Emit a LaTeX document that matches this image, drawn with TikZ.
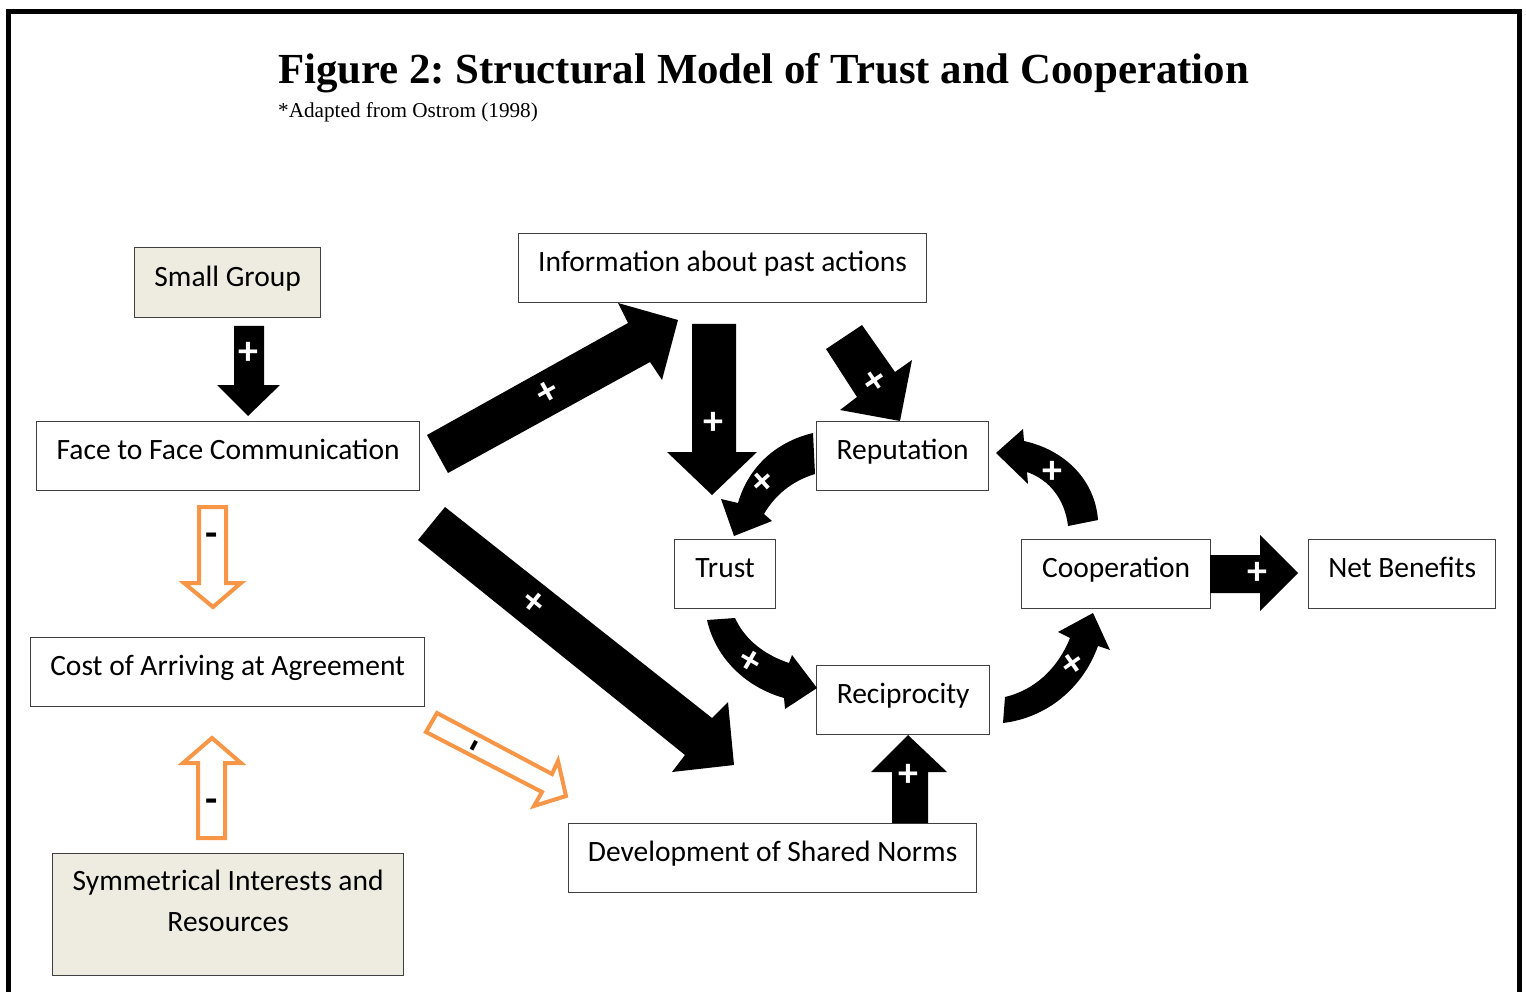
\documentclass[tikz,border=0pt]{standalone}
\usepackage{fontspec}
\setmainfont{Carlito}
\newfontfamily\timesf{Liberation Serif}
\definecolor{orangeC}{HTML}{F79646}
\definecolor{beigeC}{HTML}{EEECE1}
\frenchspacing
\begin{document}
\begin{tikzpicture}[x=1pt,y=-1pt,
  box/.style={draw=black!75, line width=1.3pt, inner sep=0pt, anchor=north west,
    text height=20pt, text depth=13pt, font=\fontsize{29.5}{35}\selectfont},
  blk/.style={fill=black, draw=none},
  ora/.style={draw=orangeC, line width=4pt, fill=white, line join=miter},
  pl/.style={text=white, inner sep=0pt, font=\fontsize{40}{40}\selectfont\bfseries},
  mn/.style={text=black, inner sep=0pt, font=\fontsize{40}{40}\selectfont\bfseries}]
\useasboundingbox (0,0) rectangle (1526,992);
% frame
\draw[line width=5pt] (8,1010) -- (8,11.5) -- (1519.5,11.5) -- (1519.5,1010);
% titles
\node[anchor=base west, inner sep=0pt, font=\timesf\bfseries\fontsize{42.85}{50}\selectfont] (title) at (278,84) {Figure 2: Structural Model of Trust and Cooperation};
\node[anchor=base west, inner sep=0pt, font=\timesf\fontsize{21.2}{25}\selectfont] (sub) at (278,118) {*Adapted from Ostrom (1998)};
% boxes
\node[box, fill=beigeC, minimum width=186, minimum height=70] (sg) at (134,247) {Small Group};
\node[box, minimum width=408, minimum height=69] (info) at (518,233) {Information about past actions};
\node[box, minimum width=383, minimum height=69] (face) at (36,421) {Face to Face Communication};
\node[box, minimum width=172, minimum height=69] (rep) at (816,421) {Reputation};
\node[box, minimum width=101, minimum height=69] (trust) at (674,539) {Trust};
\node[box, minimum width=189, minimum height=69] (coop) at (1021,539) {Cooperation};
\node[box, minimum width=187, minimum height=69] (net) at (1308,539) {Net Benefits};
\node[box, minimum width=394, minimum height=69] (cost) at (30,637) {Cost of Arriving at Agreement};
\node[box, minimum width=173, minimum height=69] (recip) at (816,665) {Reciprocity};
\node[box, minimum width=408, minimum height=69] (norms) at (568,823) {Development of Shared Norms};
\node[box, fill=beigeC, minimum width=351, minimum height=122, text height=20pt, text depth=68pt,
  font=\fontsize{29.5}{41}\selectfont] (sym) at (52,853)
  {\begin{tabular}[t]{@{}c@{}}Symmetrical Interests and\\Resources\end{tabular}};
% black arrows
\fill[blk] (234,326) -- (264,326) -- (264,385) -- (280,385) -- (248,416) -- (217,385) -- (234,385) -- cycle;
\node[pl] (p1) at (248,353) {+};
\fill[blk] (427,435) -- (628,323) -- (618,303) -- (678,320) -- (662,380) -- (650,362) -- (448,473) -- cycle;
\node[pl, rotate=29] (p2) at (548,393) {+};
\fill[blk] (692,324) -- (736,324) -- (736,452) -- (757,452) -- (712,495) -- (667,452) -- (692,452) -- cycle;
\node[pl] (p3) at (713,423) {+};
\fill[blk] (826,349) -- (862,325) -- (895,372) -- (912,360) -- (900,421) -- (840,410) -- (857,397) -- cycle;
\node[pl, rotate=-56] (p4) at (873,382) {+};
\fill[blk] (813,433) .. controls (775,442) and (748,468) .. (738,503) -- (721,499) -- (734,536) -- (772,521) -- (764,514) .. controls (775,495) and (792,481) .. (815,474) -- cycle;
\node[pl, rotate=42] (p5) at (763,483) {+};
\fill[blk] (707,620) .. controls (716,660) and (748,688) .. (784,698) -- (785,709) -- (817,688) -- (792,655) -- (789,663) .. controls (765,655) and (745,640) .. (735,618) -- cycle;
\node[pl, rotate=-30] (p6) at (750,662) {+};
\fill[blk] (1005,697) .. controls (1035,690) and (1058,668) .. (1070,638) -- (1058,632) -- (1093,613) -- (1110,650) -- (1098,646) .. controls (1082,690) and (1045,718) .. (1003,723) -- cycle;
\node[pl, rotate=35] (p7) at (1073,665) {+};
\fill[blk] (892,823) -- (892,772) -- (871,772) -- (908,735) -- (947,772) -- (928,772) -- (928,823) -- cycle;
\node[pl] (p8) at (908,775) {+};
\fill[blk] (1098,520) .. controls (1095,480) and (1065,450) .. (1024,441) -- (1023,429) -- (996,453) -- (1028,484) -- (1027,472) .. controls (1050,480) and (1065,500) .. (1068,526) -- cycle;
\node[pl] (p9) at (1052,472) {+};
\fill[blk] (1210,555) -- (1260,555) -- (1260,535) -- (1298,573) -- (1260,611) -- (1260,593) -- (1210,593) -- cycle;
\node[pl] (p10) at (1257,573) {+};
\fill[blk] (445,507) -- (712,718) -- (728,702) -- (734,765) -- (672,772) -- (685,755) -- (418,540) -- cycle;
\node[pl, rotate=-38.6] (p11) at (533,603) {+};
% orange arrows
\draw[ora] (199,507) -- (226,507) -- (226,583) -- (241,583) -- (213,607) -- (184,583) -- (199,583) -- cycle;
\node[mn] (m1) at (212,540) {-};
\draw[ora] (198,838) -- (198,763) -- (183,763) -- (212,738) -- (241,763) -- (225,763) -- (225,838) -- cycle;
\node[mn] (m2) at (212,806) {-};
\draw[ora] (437,713) -- (552,774) -- (558,761) -- (566,796) -- (534,806) -- (542,792) -- (426,732) -- cycle;
\node[mn, rotate=62] (m3) at (478,748) {-};
\end{tikzpicture}
\end{document}
